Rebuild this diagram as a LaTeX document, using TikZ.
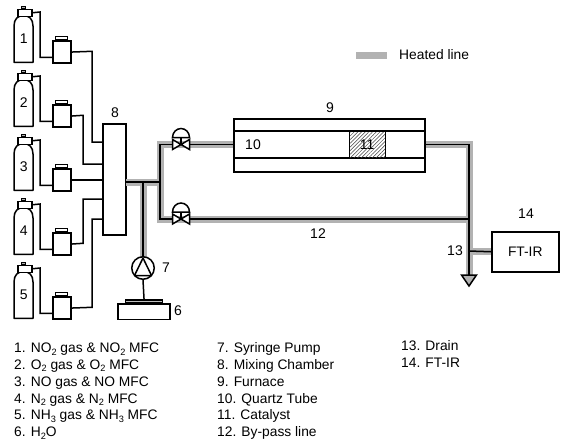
\documentclass[tikz,border=0pt]{standalone}
\usepackage{fontspec}
\setmainfont{Liberation Sans}
\usetikzlibrary{patterns.meta,calc}
\newcommand{\subs}[1]{\raisebox{-2.4pt}{\fontsize{9.2}{10}\selectfont #1}}
\definecolor{heatgray}{gray}{0.70}
\tikzset{
  ln/.style={draw=black,line width=1.5pt,line join=miter},
  heat/.style={draw=heatgray,line width=7pt,line join=miter},
  pipe/.style={draw=black,line width=1.5pt},
  lab/.style={font=\fontsize{14}{16}\selectfont,inner sep=0pt},
  legendtxt/.style={font=\fontsize{13.8}{15}\selectfont,anchor=base west,inner sep=0pt},
  box/.style={draw=black,line width=1.5pt,fill=white,inner sep=0pt,minimum width=#1},
  box/.default=10pt
}
\begin{document}
\begin{tikzpicture}[x=1pt,y=-1pt]
\useasboundingbox (0,0) rectangle (562,442);

% legend
\coordinate (legA) at (356,55);
\coordinate (legB) at (387,55);
\draw[heat] (legA) -- (legB);
\node[anchor=west,inner sep=0pt,font=\fontsize{13.8}{15}\selectfont] (legtxt) at (399,55) {Heated line};

% named positions
\node[box=23pt,minimum height=111pt] (mixer) at (114.5,179.5) {};
\node[lab] (l8) at (115,113) {8};
\coordinate (j1) at (126,182);
\coordinate (j2) at (143,182);
\coordinate (j3) at (160,182);
\coordinate (c1) at (160,144.5);
\coordinate (c2) at (160,219);
\coordinate (v1) at (181,144.5);
\coordinate (v2) at (181,219);
\coordinate (out1) at (469,144.5);
\coordinate (t1) at (469,219);
\coordinate (t2) at (469,251);
\coordinate (drain) at (469,275);

% heated underlay
\draw[heat,line cap=butt] (j1) -- (163.5,182);
\draw[heat,line cap=butt] (j2) -- (143,258);
\draw[heat,line cap=butt] (233,144.5) -- (c1) -- (c2) -- (t1);
\draw[heat,line cap=butt] (424,144.5) -- (out1) -- (drain);
\draw[heat,line cap=butt] (t2) -- (491,251);

% furnace
\node[box=191pt,minimum height=53pt,anchor=north west] (furnace) at (233,118) {};
\draw[ln] (233,131) -- (424,131);
\draw[ln] (233,158) -- (424,158);
\node[lab] (l9) at (330,108) {9};
\node[lab] (l10) at (253,144.5) {10};
\node[draw=black,line width=1.5pt,minimum width=36pt,minimum height=27pt,inner sep=0pt,anchor=north west,
      pattern={Lines[angle=45,distance=2.6pt,line width=.5pt]},pattern color=black!75,
      font=\fontsize{14}{16}\selectfont] (cat) at (349,131) {11};

% FT-IR
\node[box=67pt,minimum height=40pt,anchor=north west,font=\fontsize{13.8}{15}\selectfont] (ftir) at (491,231) {FT-IR};
\node[lab] (l14) at (526,214) {14};
\node[lab] (l13) at (455,251) {13};

% pipes
\draw[pipe] (j1) -- (j3);
\draw[pipe] (j3) -- (c1) -- (v1) -- (furnace.west |- v1);
\draw[pipe] (j3) -- (c2) -- (v2) -- (t1);
\draw[pipe] (furnace.east |- out1) -- (out1) -- (drain);
\draw[pipe] (t2) -- (ftir.west);

% drain triangle
\draw[draw=black,line width=1.5pt,fill=heatgray,line join=miter] (461.5,275) -- (476.5,275) -- (469,286) -- cycle;
\node[lab] (l12) at (318,234) {12};

% valves
\foreach \v in {v1,v2}{
  \begin{scope}[shift={(\v)}]
    \draw[ln,fill=white] (-8.5,-5) -- (8.5,5) -- (8.5,-5) -- (-8.5,5) -- cycle;
    \draw[ln] (0,0) -- (0,-7);
    \draw[ln,fill=white] (-8.5,-7) arc[start angle=180,end angle=0,x radius=8.5,y radius=-9] -- cycle;
  \end{scope}
}

% pump and water
\node[draw=black,line width=1.5pt,fill=white,circle,minimum size=22.5pt,inner sep=0pt] (pump) at (143,268) {};
\draw[ln,line join=round] (143,258) -- (134.5,275.5) -- (151.5,275.5) -- cycle;
\node[lab] (l7) at (166,268) {7};
\node[draw=black,line width=1.5pt,fill=white,minimum width=52pt,minimum height=15.5pt,inner sep=0pt,anchor=north west] (bath) at (117,303) {};
\node[draw=black,line width=1.1pt,fill=gray!50,minimum width=37pt,minimum height=2.5pt,inner sep=0pt,anchor=south west] (plate) at (125,303) {};
\draw[pipe] (pump.south) -- (plate.north);
\draw[pipe] (143,182) -- (pump.north);
\node[lab] (l6) at (178,311) {6};

% gas lines
\foreach \i [evaluate=\i as \dy using {(\i-1)*64}] in {1,...,5}{
  \begin{scope}[yshift={-\dy pt}]
    \draw[ln,line join=round,fill=white] (14,62.3) -- (14,26) .. controls (14,19) and (18,15.5) .. (23.5,15.5)
       .. controls (29,15.5) and (33,19) .. (33,26) -- (33,62.3) -- cycle;
    \node[lab] (cyl\i) at (23.7,39) {\i};
    \node[draw=black,line width=1.5pt,fill=white,minimum width=14pt,minimum height=7pt,inner sep=0pt,anchor=north west] (cap\i) at (17,8.5) {};
    \node[draw=black,line width=1pt,fill=gray!60,minimum width=4pt,minimum height=2pt,inner sep=0pt] (knob\i) at (23.7,7.2) {};
    \node[draw=black,line width=1.5pt,fill=white,minimum width=18pt,minimum height=22pt,inner sep=0pt,anchor=north west] (mfc\i) at (52,40.3) {};
    \node[draw=black,line width=1.2pt,fill=white,minimum width=12pt,minimum height=3.5pt,inner sep=0pt,anchor=south] (mfccap\i) at (mfc\i.north) {};
    \coordinate (mi\i) at (52,57.3);
    \draw[pipe,line join=miter] (cap\i.east) -- (40,12) -- (40,57.3) -- (mi\i);
  \end{scope}
}
\coordinate (m1) at (103,142);
\coordinate (m2) at (103,164);
\coordinate (m3) at (103,182);
\coordinate (m4) at (103,199);
\coordinate (m5) at (103,219);
\draw[pipe] (mfc1.east) -- (92,51.3) -- (92,142) -- (m1);
\draw[pipe] (mfc2.east) -- (83,115.3) -- (83,164) -- (m2);
\draw[pipe] (mfc3.east) -- (mfc3.east -| m3);
\draw[pipe] (mfc4.east) -- (83,243.3) -- (83,199) -- (m4);
\draw[pipe] (mfc5.east) -- (92,307.3) -- (92,219) -- (m5);

% legend text
\node[legendtxt] (t01) at (14,352.7) {1. NO\subs{2} gas \& NO\subs{2} MFC};
\node[legendtxt] (t02) at (14,369.5) {2. O\subs{2} gas \& O\subs{2} MFC};
\node[legendtxt] (t03) at (14,386.3) {3. NO gas \& NO MFC};
\node[legendtxt] (t04) at (14,403.1) {4. N\subs{2} gas \& N\subs{2} MFC};
\node[legendtxt] (t05) at (14,419.9) {5. NH\subs{3} gas \& NH\subs{3} MFC};
\node[legendtxt] (t06) at (14,436.7) {6. H\subs{2}O};
\node[legendtxt] (t07) at (217,352.7) {7. Syringe Pump};
\node[legendtxt] (t08) at (217,369.5) {8. Mixing Chamber};
\node[legendtxt] (t09) at (217,386.3) {9. Furnace};
\node[legendtxt] (t10) at (217,403.1) {10. Quartz Tube};
\node[legendtxt] (t11) at (217,419.9) {11. Catalyst};
\node[legendtxt] (t12) at (217,436.7) {12. By-pass line};
\node[legendtxt] (t13) at (401,350) {13. Drain};
\node[legendtxt] (t14) at (401,367) {14. FT-IR};
\end{tikzpicture}
\end{document}
